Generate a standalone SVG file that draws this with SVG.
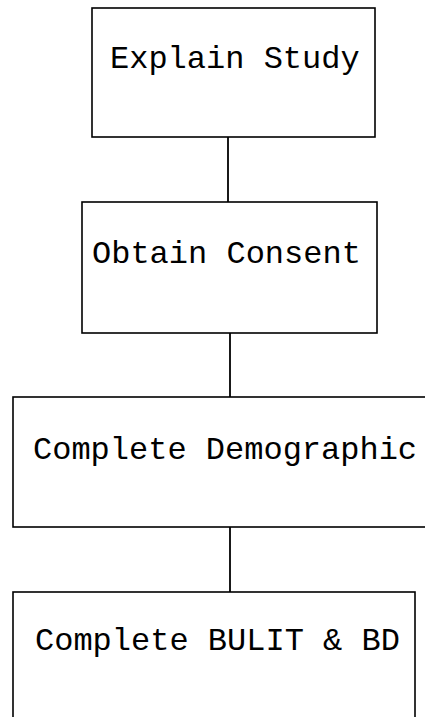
<svg xmlns="http://www.w3.org/2000/svg" width="425" height="717" viewBox="0 0 425 717">
<style>
.box{fill:none;stroke:#000;stroke-width:1.6}
.lbl{font-family:"Liberation Mono","Courier New",monospace;font-size:32px;fill:#000}
.conn{stroke:#000;stroke-width:1.8;fill:none}
</style>
<rect width="425" height="717" fill="#fff"/>
<g id="connectors">
<line class="conn" x1="228" y1="137" x2="228" y2="202"/>
<line class="conn" x1="230" y1="333" x2="230" y2="397"/>
<line class="conn" x1="230" y1="527" x2="230" y2="592"/>
</g>
<g id="node-explain">
<rect class="box" x="92" y="8" width="283" height="129"/>
<text class="lbl" x="110" y="68">Explain Study</text>
</g>
<g id="node-consent">
<rect class="box" x="82" y="202" width="295" height="131"/>
<text class="lbl" x="92" y="263">Obtain Consent</text>
</g>
<g id="node-demographic">
<rect class="box" x="13" y="397" width="430" height="130"/>
<text class="lbl" x="33" y="459">Complete Demographic</text>
</g>
<g id="node-bulit">
<rect class="box" x="13" y="592" width="402" height="140"/>
<text class="lbl" x="35" y="650">Complete BULIT &amp; BD</text>
</g>
</svg>
